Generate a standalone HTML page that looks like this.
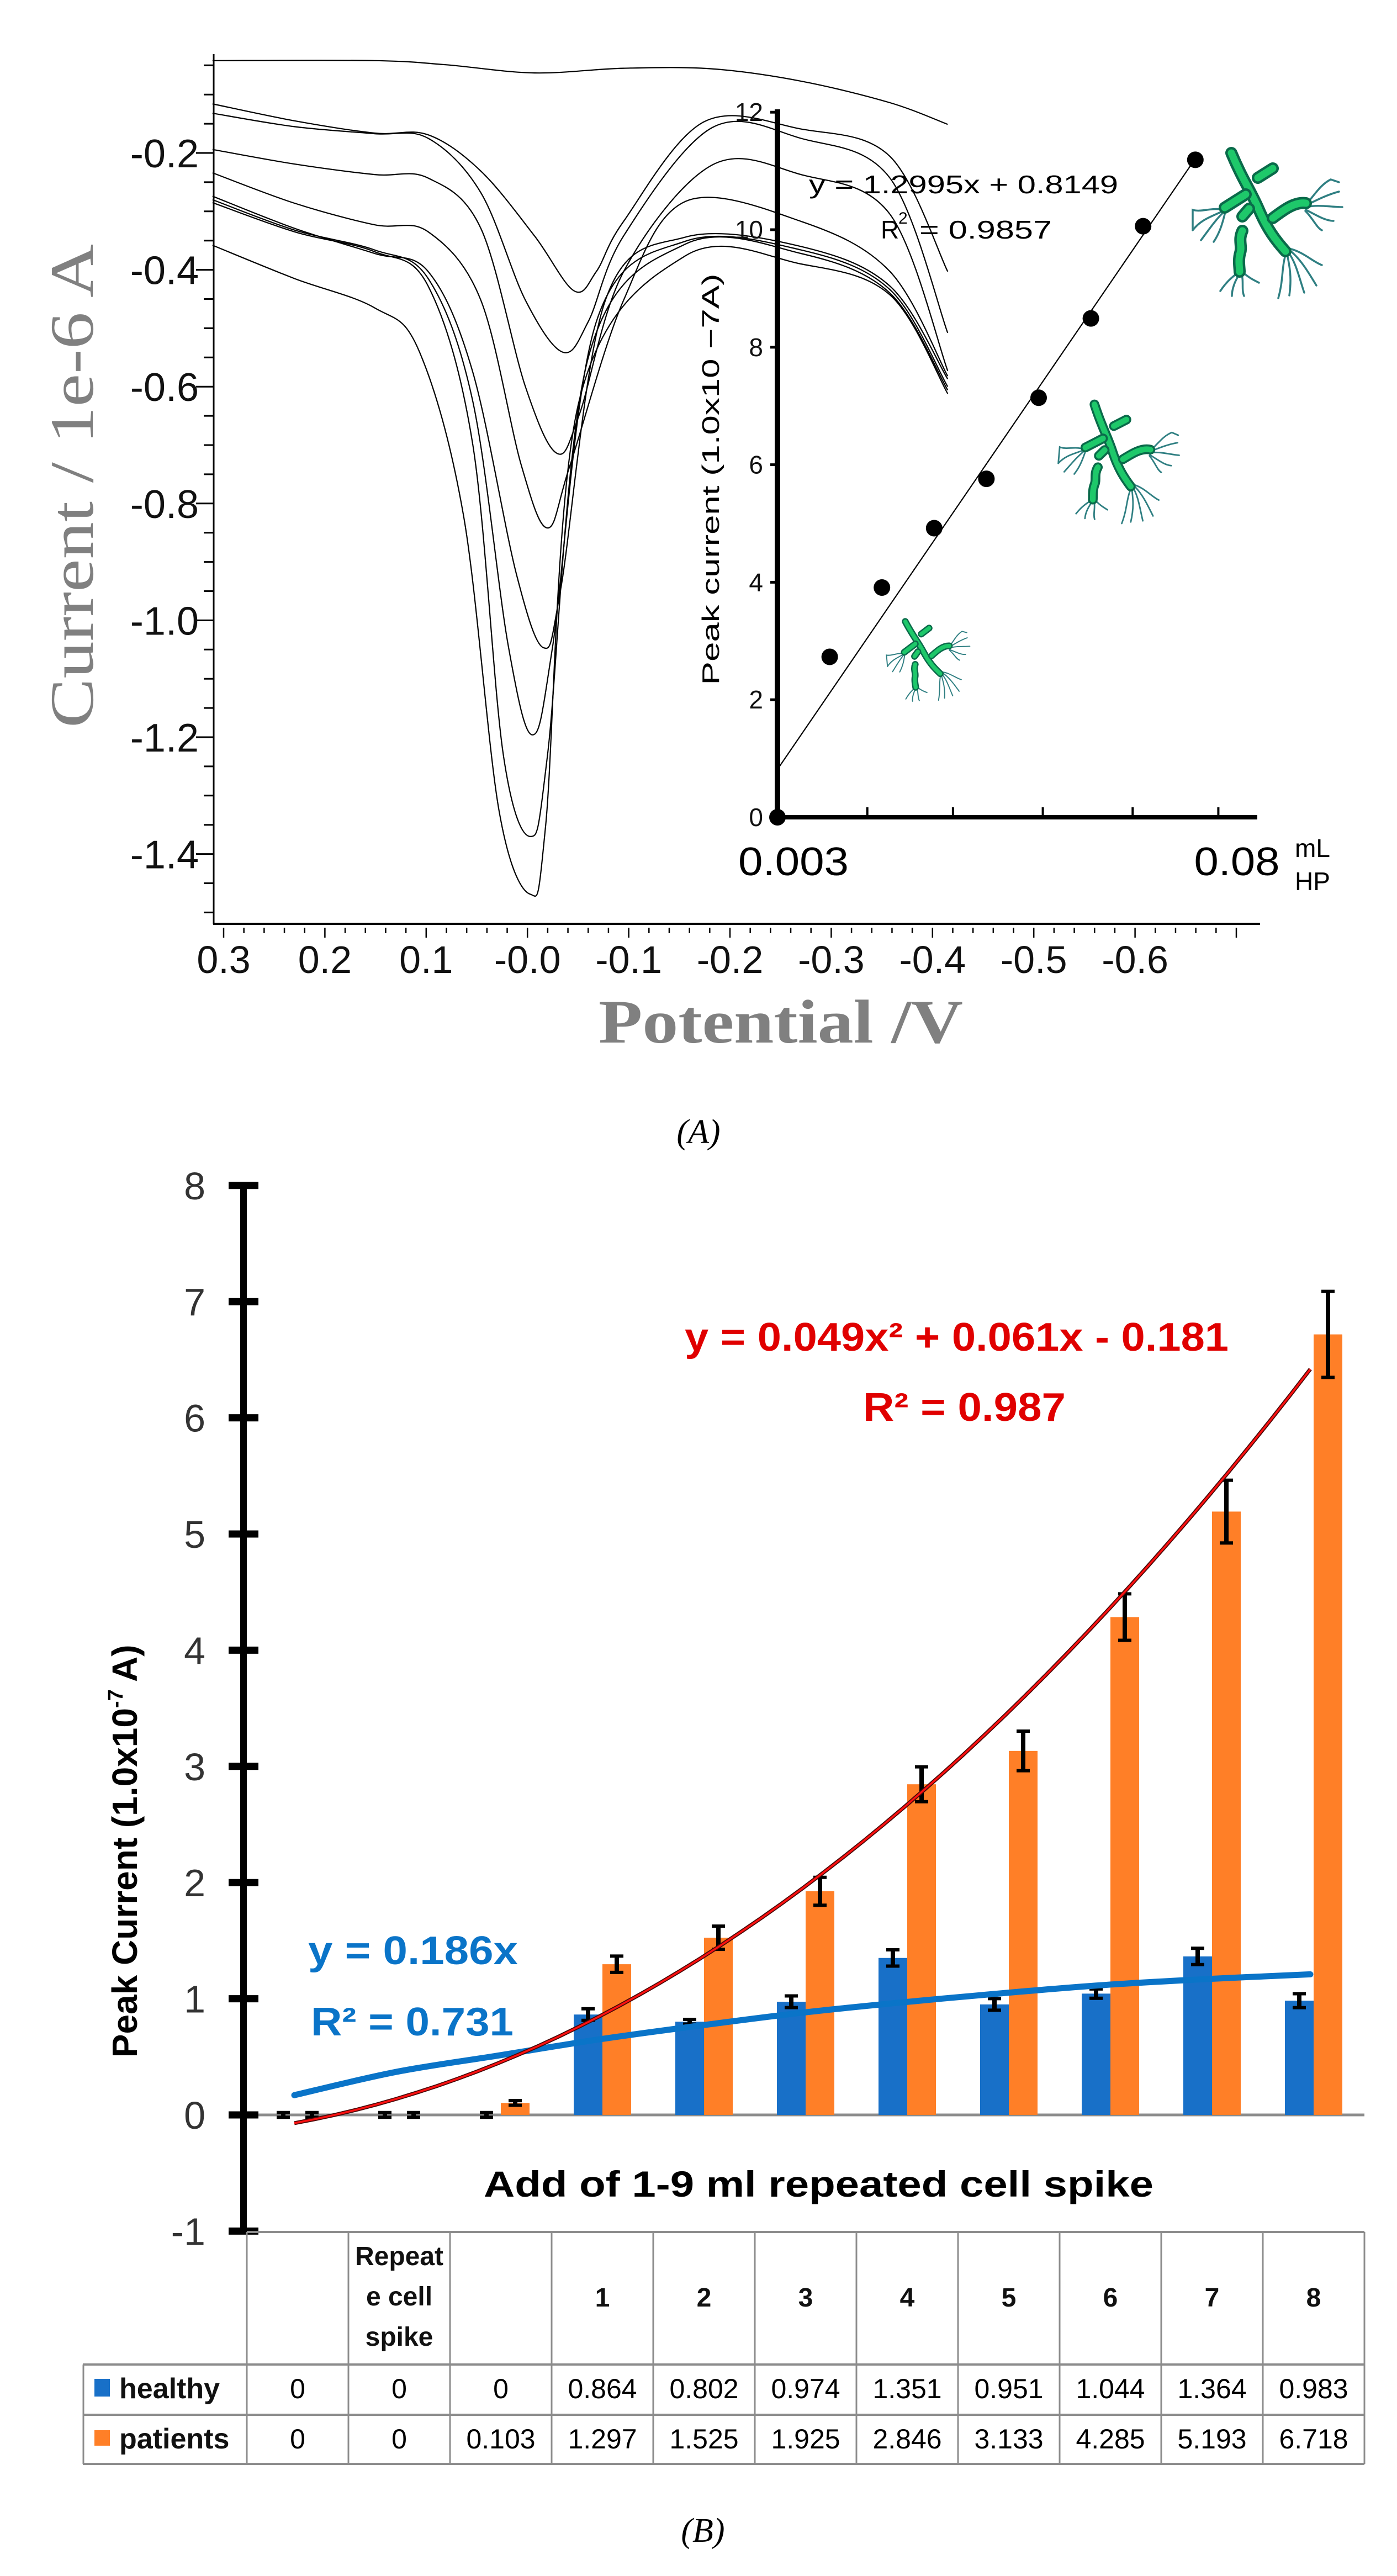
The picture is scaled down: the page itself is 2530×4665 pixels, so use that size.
<!DOCTYPE html>
<html><head><meta charset="utf-8">
<style>
html,body{margin:0;padding:0;background:#fff;}
svg{display:block;font-family:"Liberation Sans",sans-serif;}
</style></head>
<body>
<svg id="fig" xmlns="http://www.w3.org/2000/svg" width="2530" height="4665" viewBox="0 0 2530 4665">
<rect x="0" y="0" width="2530" height="4665" fill="#fff"/>
<g id="chartA"></g>
<g id="chartB"></g>
</svg>
<script>
// ===== Chart A data (potential V, current 1e-6 A) =====
const voltLabels = ["0.3","0.2","0.1","-0.0","-0.1","-0.2","-0.3","-0.4","-0.5","-0.6"];
const voltTicks = [0.3,0.2,0.1,0.0,-0.1,-0.2,-0.3,-0.4,-0.5,-0.6];
const currTicks = [-0.2,-0.4,-0.6,-0.8,-1.0,-1.2,-1.4];
const currLabels = ["-0.2","-0.4","-0.6","-0.8","-1.0","-1.2","-1.4"];
const curveV1 = [0.311,0.151,0.081,-0.007,-0.095,-0.182,-0.270,-0.358,-0.415];
const curveI1 = [-0.042,-0.042,-0.049,-0.063,-0.055,-0.056,-0.077,-0.114,-0.151];
const curveV2 = [0.311,0.230,0.151,0.098,0.046,-0.007,-0.046,-0.068,-0.095,-0.174,-0.270,-0.358,-0.415];
const curveI2 = [-0.116,-0.145,-0.166,-0.169,-0.231,-0.342,-0.436,-0.403,-0.317,-0.147,-0.159,-0.206,-0.403];
const curveV3 = [0.311,0.230,0.151,0.098,0.046,0.002,-0.035,-0.060,-0.095,-0.182,-0.270,-0.358,-0.415];
const curveI3 = [-0.132,-0.155,-0.167,-0.175,-0.268,-0.452,-0.541,-0.489,-0.342,-0.157,-0.175,-0.243,-0.508];
const curveV4 = [0.311,0.230,0.151,0.098,0.046,0.002,-0.029,-0.051,-0.095,-0.182,-0.270,-0.358,-0.415];
const curveI4 = [-0.194,-0.219,-0.237,-0.243,-0.329,-0.600,-0.714,-0.649,-0.403,-0.221,-0.237,-0.305,-0.573];
const curveV5 = [0.311,0.230,0.151,0.098,0.046,0.006,-0.020,-0.042,-0.095,-0.156,-0.270,-0.358,-0.415];
const curveI5 = [-0.234,-0.286,-0.323,-0.335,-0.452,-0.735,-0.842,-0.735,-0.452,-0.283,-0.317,-0.403,-0.582];
const curveV6 = [0.311,0.230,0.151,0.098,0.054,0.011,-0.016,-0.033,-0.077,-0.156,-0.270,-0.358,-0.415];
const curveI6 = [-0.274,-0.329,-0.372,-0.403,-0.575,-0.920,-1.047,-0.945,-0.452,-0.344,-0.360,-0.428,-0.587];
const curveV7 = [0.311,0.230,0.151,0.098,0.054,0.019,-0.005,-0.025,-0.068,-0.156,-0.270,-0.358,-0.415];
const curveI7 = [-0.280,-0.332,-0.366,-0.415,-0.625,-1.043,-1.196,-1.043,-0.489,-0.351,-0.366,-0.434,-0.600];
const curveV8 = [0.311,0.230,0.151,0.098,0.054,0.024,-0.003,-0.020,-0.060,-0.156,-0.270,-0.358,-0.415];
const curveI8 = [-0.285,-0.335,-0.369,-0.428,-0.699,-1.228,-1.370,-1.228,-0.551,-0.356,-0.372,-0.440,-0.606];
const curveV9 = [0.311,0.230,0.151,0.107,0.063,0.028,-0.003,-0.018,-0.051,-0.156,-0.270,-0.358,-0.415];
const curveI9 = [-0.358,-0.415,-0.465,-0.539,-0.822,-1.326,-1.469,-1.351,-0.625,-0.376,-0.390,-0.443,-0.612];
const curvesV = [curveV1,curveV2,curveV3,curveV4,curveV5,curveV6,curveV7,curveV8,curveV9];
const curvesI = [curveI1,curveI2,curveI3,curveI4,curveI5,curveI6,curveI7,curveI8,curveI9];
// Inset data
const insetX = [0,1,2,3,4,5,6,7,8];
const insetY = [0,2.73,3.91,4.92,5.76,7.14,8.49,10.06,11.19];
const insetSlope = [1.2995];
const insetIntercept = [0.8149];
const insetYTicks = [0,2,4,6,8,10,12];
const insetXTicks = [0,1.72,3.36,5.08,6.8,8.44];

// ===== Chart B data =====
const catHeader = ["","Repeat|e cell|spike","","1","2","3","4","5","6","7","8"];
const healthy = [0,0,0,0.864,0.802,0.974,1.351,0.951,1.044,1.364,0.983];
const patients = [0,0,0.103,1.297,1.525,1.925,2.846,3.133,4.285,5.193,6.718];
const healthyErr = [0.02,0.02,0.02,0.05,0.02,0.05,0.07,0.05,0.04,0.07,0.06];
const patientsErr = [0.02,0.02,0.02,0.07,0.1,0.12,0.15,0.17,0.2,0.27,0.37];
const healthyLabels = ["0","0","0","0.864","0.802","0.974","1.351","0.951","1.044","1.364","0.983"];
const patientsLabels = ["0","0","0.103","1.297","1.525","1.925","2.846","3.133","4.285","5.193","6.718"];
const yTicksB = [8,7,6,5,4,3,2,1,0,-1];
const redCoef = [0.049,0.061,-0.181];
const blueTrend = [0.17,0.37,0.51,0.65,0.77,0.88,0.97,1.05,1.12,1.17,1.21];

const NS="http://www.w3.org/2000/svg";
const SERIF='"Liberation Serif",serif';
function mk(tag, attrs, parent){const e=document.createElementNS(NS,tag);for(const k in attrs)e.setAttribute(k,attrs[k]);parent.appendChild(e);return e;}
function txt(str, attrs, parent){const e=mk('text',attrs,parent);e.textContent=str;return e;}
function smooth(pts){let d="M"+pts[0][0]+","+pts[0][1];for(let i=0;i<pts.length-1;i++){const p0=pts[Math.max(0,i-1)],p1=pts[i],p2=pts[i+1],p3=pts[Math.min(pts.length-1,i+2)];const c1x=p1[0]+(p2[0]-p0[0])/6,c1y=p1[1]+(p2[1]-p0[1])/6,c2x=p2[0]-(p3[0]-p1[0])/6,c2y=p2[1]-(p3[1]-p1[1])/6;d+=" C"+c1x.toFixed(1)+","+c1y.toFixed(1)+" "+c2x.toFixed(1)+","+c2y.toFixed(1)+" "+p2[0].toFixed(1)+","+p2[1].toFixed(1);}return d;}

// ===== Chart A =====
const A=document.getElementById('chartA');
const ax=v=>405+(0.3-v)*1834;
const ay=i=>277+(-0.2-i)*1058;
let el;
el=mk('line',{x1:387,y1:98,x2:387,y2:1673,stroke:'#000','stroke-width':3},A);


el=mk('line',{x1:386,y1:1673,x2:2282,y2:1673,stroke:'#000','stroke-width':4},A);


for(let k=0;k<=29;k++){const v=-0.05-k*0.05;const yy=ay(v);const major=Math.abs((v*10)%2)<0.01||Math.abs(Math.abs((v*10)%2)-2)<0.01;
 el=mk('line',{x1:major?355:369,y1:yy,x2:387,y2:yy,stroke:'#000','stroke-width':3},A);
 
 }
for(let k=0;k<=50;k++){const v=0.3-k*0.02;const xx=ax(v);if(xx>2285)break;const major=k%5===0;
 el=mk('line',{x1:xx,y1:1680,x2:xx,y2:major?1698:1690,stroke:'#000','stroke-width':2.5},A);
 
 }
currTicks.forEach((v,i)=>{el=txt(currLabels[i],{x:360,y:ay(v)+26,'text-anchor':'end','font-size':72,fill:'#111'},A);
 
 });
voltTicks.forEach((v,i)=>{el=txt(voltLabels[i],{x:ax(v),y:1762,'text-anchor':'middle','font-size':70,fill:'#111'},A);
 
 });
el=txt("Current / 1e-6 A",{x:0,y:0,transform:'translate(168,880) rotate(-90)','text-anchor':'middle','font-size':112,fill:'#808080','font-family':SERIF,textLength:876,lengthAdjust:'spacingAndGlyphs'},A);


el=txt("Potential /V",{x:1414,y:1888,'text-anchor':'middle','font-size':112,'font-weight':'bold',fill:'#808080','font-family':SERIF,textLength:660,lengthAdjust:'spacingAndGlyphs'},A);


curvesV.forEach((vs,k)=>{const pts=vs.map((v,j)=>[ax(v),ay(curvesI[k][j])]);
 el=mk('path',{d:smooth(pts),fill:'none',stroke:'#000','stroke-width':2.2},A);
 
 });

// Inset
const ix=x=>1408+x*94.6;
const iy=y=>1480-y*106.4;
el=mk('line',{x1:1408,y1:198,x2:1408,y2:1485,stroke:'#000','stroke-width':10},A);


el=mk('line',{x1:1403,y1:1480,x2:2277,y2:1480,stroke:'#000','stroke-width':8},A);


insetYTicks.forEach(v=>{el=mk('line',{x1:1395,y1:iy(v),x2:1408,y2:iy(v),stroke:'#000','stroke-width':5},A);
 
 
 el=txt(String(v),{x:1382,y:iy(v)+16,'text-anchor':'end','font-size':46,fill:'#111'},A);
 
 });
insetXTicks.forEach(v=>{el=mk('line',{x1:ix(v),y1:1462,x2:ix(v),y2:1480,stroke:'#000','stroke-width':4},A);
 
 });
el=txt("0.003",{x:1437,y:1585,'text-anchor':'middle','font-size':72,fill:'#000',textLength:200,lengthAdjust:'spacingAndGlyphs'},A);


el=txt("0.08",{x:2240,y:1585,'text-anchor':'middle','font-size':72,fill:'#000',textLength:155,lengthAdjust:'spacingAndGlyphs'},A);


el=txt("mL",{x:2345,y:1552,'font-size':46,fill:'#000'},A);


el=txt("HP",{x:2345,y:1612,'font-size':46,fill:'#000'},A);


el=txt("Peak current (1.0x10  \u22127A)",{x:0,y:0,transform:'translate(1302,868) rotate(-90)','text-anchor':'middle','font-size':44,fill:'#000',textLength:745,lengthAdjust:'spacingAndGlyphs'},A);


el=mk('line',{x1:ix(insetX[0]),y1:iy(insetIntercept[0]),x2:ix(insetX[8]),y2:iy(insetSlope[0]*insetX[8]+insetIntercept[0]),stroke:'#000','stroke-width':2.2},A);


insetX.forEach((x,i)=>{el=mk('circle',{cx:ix(x),cy:iy(insetY[i]),r:15,fill:'#000'},A);
 
 });
el=txt("y = 1.2995x + 0.8149",{x:1465,y:350,'font-size':46,fill:'#000',textLength:560,lengthAdjust:'spacingAndGlyphs'},A);


el=txt("R",{x:1595,y:432,'font-size':46,fill:'#000'},A);


txt("2",{x:1627,y:405,'font-size':30,fill:'#000'},A);
txt("= 0.9857",{x:1665,y:432,'font-size':46,fill:'#000',textLength:240,lengthAdjust:'spacingAndGlyphs'},A);

// bacteria drawing
function bacteria(tx,ty,s,rot,name){
 const g=mk('g',{transform:`translate(${tx},${ty}) scale(${s}) rotate(${rot} 160 160)`},A);
 
 
 const flag=[["M180,225 c-10,30 -5,50 -15,85"],["M180,225 c5,25 10,45 5,80"],["M182,225 c15,20 20,45 30,75"],["M184,222 c20,15 35,40 50,65"],["M184,220 c25,5 45,25 60,30"],
  ["M65,150 c-20,-5 -40,5 -55,0 l0,35"],["M65,152 c-20,10 -40,15 -55,35"],["M65,155 c-15,15 -25,30 -40,50"],["M68,158 c-5,20 -10,35 -20,50"],
  ["M215,140 c15,-15 25,-35 45,-45 l15,5"],["M215,142 c20,-10 40,-20 60,-25"],["M216,145 c20,-5 45,0 65,0"],["M215,150 c20,10 35,20 50,20"],["M214,152 c15,15 20,30 30,35"],
  ["M95,262 c-15,10 -25,20 -35,35"],["M96,264 c-10,15 -15,30 -15,42"],["M98,264 c5,15 0,30 5,42"],["M100,262 c10,10 20,15 30,20"]];
 flag.forEach(f=>mk('path',{d:f[0],fill:'none',stroke:'#2f7f82','stroke-width':3.5,'stroke-linecap':'round'},g));
 const rods=["M80,47 C100,95 115,115 130,150 S160,205 178,225","M128,92 L155,75","M68,146 L106,122","M100,162 L112,148","M155,165 C175,150 195,135 215,138","M100,188 C92,205 100,215 96,228 S95,255 95,262"];
 rods.forEach(r=>{mk('path',{d:r,fill:'none',stroke:'#0a6a4a','stroke-width':22,'stroke-linecap':'round'},g);
  mk('path',{d:r,fill:'none',stroke:'#1ec86a','stroke-width':13,'stroke-linecap':'round'},g);});
}
bacteria(2150,230,1,0,'bacteria-large');
bacteria(1910,700,0.8,5,'bacteria-medium');
bacteria(1600,1095,0.56,-5,'bacteria-small');

el=txt("(A)",{x:1265,y:2070,'text-anchor':'middle','font-size':62,'font-style':'italic',fill:'#000','font-family':SERIF},document.getElementById('fig'));



// ===== Chart B =====
const B=document.getElementById('chartB');
const by=v=>3830-v*210.4;
const colL=447, colW=184;
const cx=i=>colL+colW*(i+0.5);
const bw=52;
el=mk('line',{x1:441,y1:by(0),x2:2471,y2:by(0),stroke:'#8c8c8c','stroke-width':5},B);


healthy.forEach((v,i)=>{const x=cx(i)-bw;
 if(v>0){el=mk('rect',{x:x,y:by(v),width:bw,height:by(0)-by(v),fill:'#1870c8'},B);
 
 }
 el=mk('line',{x1:x+bw/2,y1:by(v+healthyErr[i]),x2:x+bw/2,y2:by(v-healthyErr[i]),stroke:'#000','stroke-width':8},B);
 
 
 mk('line',{x1:x+bw/2-12,y1:by(v+healthyErr[i]),x2:x+bw/2+12,y2:by(v+healthyErr[i]),stroke:'#000','stroke-width':6},B);
 mk('line',{x1:x+bw/2-12,y1:by(v-healthyErr[i]),x2:x+bw/2+12,y2:by(v-healthyErr[i]),stroke:'#000','stroke-width':6},B);});
patients.forEach((v,i)=>{const x=cx(i);
 if(v>0){el=mk('rect',{x:x,y:by(v),width:bw,height:by(0)-by(v),fill:'#ff7f27'},B);
 
 }
 el=mk('line',{x1:x+bw/2,y1:by(v+patientsErr[i]),x2:x+bw/2,y2:by(v-patientsErr[i]),stroke:'#000','stroke-width':8},B);
 
 
 mk('line',{x1:x+bw/2-12,y1:by(v+patientsErr[i]),x2:x+bw/2+12,y2:by(v+patientsErr[i]),stroke:'#000','stroke-width':6},B);
 mk('line',{x1:x+bw/2-12,y1:by(v-patientsErr[i]),x2:x+bw/2+12,y2:by(v-patientsErr[i]),stroke:'#000','stroke-width':6},B);});
const bluePts=blueTrend.map((v,i)=>[cx(i)-6,by(v)]);
el=mk('path',{d:smooth(bluePts),fill:'none',stroke:'#0a74c8','stroke-width':11,'stroke-linecap':'round'},B);


const redPts=[];for(let t=0;t<=50;t++){const x=1+t*0.2;redPts.push([cx(x-1)-6,by(redCoef[0]*x*x+redCoef[1]*x+redCoef[2])]);}
el=mk('path',{d:"M"+redPts.map(p=>p[0].toFixed(1)+","+p[1].toFixed(1)).join(" L"),fill:'none',stroke:'#4a0808','stroke-width':7},B);


mk('path',{d:"M"+redPts.map(p=>p[0].toFixed(1)+","+p[1].toFixed(1)).join(" L"),fill:'none',stroke:'#ff1010','stroke-width':3.5},B);
el=mk('line',{x1:441,y1:2141,x2:441,y2:4044,stroke:'#000','stroke-width':12},B);


yTicksB.forEach(v=>{el=mk('line',{x1:414,y1:by(v),x2:468,y2:by(v),stroke:'#000','stroke-width':13},B);
 
 
 el=txt(String(v),{x:372,y:by(v)+25,'text-anchor':'end','font-size':70,fill:'#333'},B);
 
 });
el=txt("Peak  Current (1.0x10",{x:0,y:0,transform:'translate(248,3093) rotate(-90)','text-anchor':'end','font-size':64,'font-weight':'bold',fill:'#000'},B);


el=txt("-7",{x:0,y:0,transform:'translate(222,3093) rotate(-90)','font-size':38,'font-weight':'bold',fill:'#000'},B);


txt("A)",{x:0,y:0,transform:'translate(248,3046) rotate(-90)','font-size':64,'font-weight':'bold',fill:'#000'},B);
el=txt("y = 0.049x\u00b2 + 0.061x - 0.181",{x:1240,y:2446,'font-size':72,'font-weight':'bold',fill:'#e00000',textLength:985,lengthAdjust:'spacingAndGlyphs'},B);


el=txt("R\u00b2 = 0.987",{x:1563,y:2573,'font-size':72,'font-weight':'bold',fill:'#e00000',textLength:367,lengthAdjust:'spacingAndGlyphs'},B);


el=txt("y = 0.186x",{x:558,y:3557,'font-size':72,'font-weight':'bold',fill:'#0a74c8',textLength:380,lengthAdjust:'spacingAndGlyphs'},B);


el=txt("R\u00b2 = 0.731",{x:563,y:3686,'font-size':72,'font-weight':'bold',fill:'#0a74c8',textLength:367,lengthAdjust:'spacingAndGlyphs'},B);


el=txt("Add of 1-9 ml repeated  cell spike",{x:876,y:3978,'font-size':66,'font-weight':'bold',fill:'#000',textLength:1213,lengthAdjust:'spacingAndGlyphs'},B);


const T=mk('g',{},B);


const gray='#8c8c8c';
mk('line',{x1:447,y1:4042,x2:2471,y2:4042,stroke:gray,'stroke-width':4},T);
mk('line',{x1:150,y1:4282,x2:2471,y2:4282,stroke:gray,'stroke-width':4},T);
mk('line',{x1:150,y1:4373,x2:2471,y2:4373,stroke:gray,'stroke-width':4},T);
mk('line',{x1:150,y1:4462,x2:2471,y2:4462,stroke:gray,'stroke-width':4},T);
mk('line',{x1:151,y1:4282,x2:151,y2:4462,stroke:gray,'stroke-width':3},T);
for(let i=0;i<=11;i++){mk('line',{x1:colL+colW*i,y1:4042,x2:colL+colW*i,y2:4462,stroke:gray,'stroke-width':3},T);}
catHeader.forEach((h,i)=>{const lines=h.split('|');const y0=lines.length>1?4102:4177;
 lines.forEach((ln,j)=>{if(!ln)return;el=txt(ln,{x:cx(i),y:y0+j*73,'text-anchor':'middle','font-size':48,'font-weight':'bold',fill:'#111'},T);
 
 });});
healthyLabels.forEach((s,i)=>{el=txt(s,{x:cx(i),y:4343,'text-anchor':'middle','font-size':50,fill:'#000'},T);
 
 });
patientsLabels.forEach((s,i)=>{el=txt(s,{x:cx(i),y:4434,'text-anchor':'middle','font-size':50,fill:'#000'},T);
 
 });
el=mk('rect',{x:171,y:4308,width:28,height:32,fill:'#1870c8'},T);


el=txt("healthy",{x:216,y:4343,'font-size':52,'font-weight':'bold',fill:'#111'},T);


el=mk('rect',{x:171,y:4401,width:28,height:28,fill:'#ff7f27'},T);


el=txt("patients",{x:216,y:4434,'font-size':52,'font-weight':'bold',fill:'#111'},T);


el=txt("(B)",{x:1273,y:4603,'text-anchor':'middle','font-size':62,'font-style':'italic',fill:'#000','font-family':SERIF},B);


</script>
</body></html>
